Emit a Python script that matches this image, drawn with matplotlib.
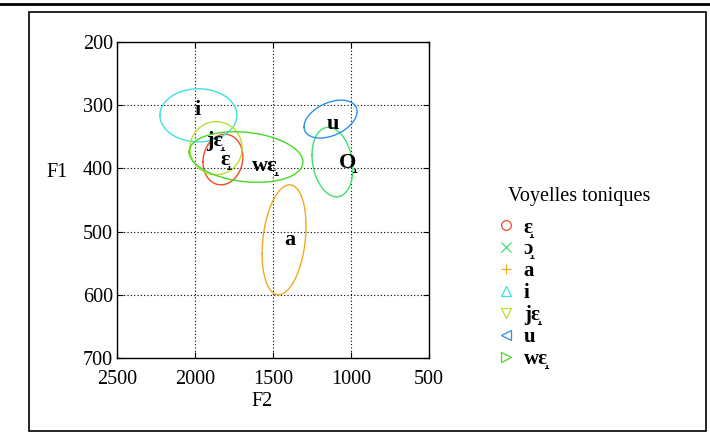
import numpy as np
import matplotlib
matplotlib.use("Agg")
import matplotlib.pyplot as plt
from matplotlib.lines import Line2D
from matplotlib.patches import Rectangle

plt.rcParams['font.family'] = ['Liberation Serif', 'DejaVu Serif']

# vowel categories
vowels = ["ɛ̝", "ɔ̝", "a", "i", "jɛ̝", "u", "wɛ̝"]
plot_labels = ["ɛ̝", "O̝", "a", "i", "jɛ̝", "u", "wɛ̝"]
colors = ["#f04a2a", "#3ee070", "#eeaa22", "#3ee0e0", "#b8e030", "#2a90ee", "#48d828"]
markers = ["o", "x", "+", "^", "v", "<", ">"]

# ellipse centers (F2, F1), half-axes and correlation
f2_center = [1821, 1119, 1429, 1978, 1865, 1131, 1673]
f1_center = [386, 390, 513, 316, 368, 322, 382]
f2_half = [128, 131, 141, 247, 167, 170, 365]
f1_half = [40, 55, 87, 42, 42, 30, 40]
corr = [0.1, -0.2, 0.25, 0.0, 0.0, 0.4, -0.2]

# label positions (F2, F1)
lab_f2 = [1808, 1019, 1391, 1981, 1872, 1115, 1551]
lab_f1 = [387, 391, 513, 308, 357, 330, 396]

xticks = [2500, 2000, 1500, 1000, 500]
yticks = [200, 300, 400, 500, 600, 700]

W, H = 710, 436
fig = plt.figure(figsize=(W / 100, H / 100), dpi=100)
ax = fig.add_axes([117 / W, 1 - 358 / H, (429 - 117) / W, (358 - 42) / H])

t = np.linspace(0, 2 * np.pi, 300)
for i in range(len(vowels)):
    r = corr[i]
    x = f2_center[i] + f2_half[i] * np.cos(t)
    y = f1_center[i] + f1_half[i] * (r * np.cos(t) + np.sqrt(1 - r * r) * np.sin(t))
    ax.plot(x, y, color=colors[i], lw=1.0)
    ax.text(lab_f2[i], lab_f1[i], plot_labels[i], ha='center', va='center',
            fontsize=16, fontweight='bold', color='black')
    ax.plot([], [], linestyle='none', marker=markers[i], color=colors[i],
            markersize=7, markerfacecolor='none', markeredgewidth=0.9,
            label=vowels[i])

ax.set_xlim(2500, 500)
ax.set_ylim(700, 200)
ax.set_xticks(xticks)
ax.set_yticks(yticks)
ax.tick_params(direction='in', length=4, top=True, right=True, labelsize=14.5,
               width=0.8)
ax.tick_params(axis='x', pad=9)
ax.tick_params(axis='y', pad=3)
ax.grid(True, color='black', linestyle=(0, (1, 2)), linewidth=0.8)
for s in ax.spines.values():
    s.set_linewidth(1.0)

fig.text(57 / W, 1 - 172 / H, "F1", ha='center', va='center', fontsize=14.5)
fig.text(262 / W, 1 - 401 / H, "F2", ha='center', va='center', fontsize=14.5)

fig.text(508 / W, 1 - 196 / H, "Voyelles toniques", ha='left', va='center',
         fontsize=14.5)
leg = ax.legend(loc='upper left', bbox_to_anchor=(481 / W, 1 - 203 / H),
                bbox_transform=fig.transFigure, frameon=False,
                prop={'size': 15, 'weight': 'bold'}, handlelength=1.0,
                handletextpad=0.35, labelspacing=0.09, borderaxespad=0.3)

# outer frame
fig.add_artist(Line2D([0, 1], [1 - 4 / H, 1 - 4 / H], transform=fig.transFigure,
                      color='black', lw=2))
fig.add_artist(Rectangle((29 / W, 1 - 431 / H), (706 - 29) / W, (431 - 12) / H,
                         transform=fig.transFigure, fill=False, edgecolor='black',
                         lw=1.2))

fig.savefig("out.png", dpi=100)
